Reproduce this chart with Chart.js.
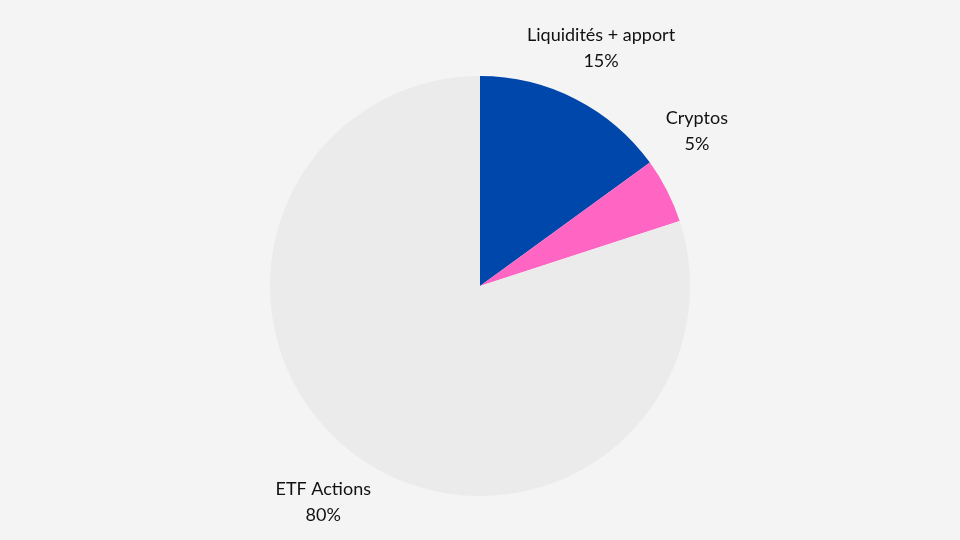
<!DOCTYPE html>
<html><head><meta charset="utf-8">
<script src="https://cdn.jsdelivr.net/npm/chart.js@4/dist/chart.umd.min.js"></script>
<style>html,body{margin:0;background:#f4f4f4;}#w{width:960px;height:540px;}</style>
</head><body><div id="w"><canvas id="c"></canvas></div>
<script>
const categories = ["Liquidités + apport", "Cryptos", "ETF Actions"];
const values = [15, 5, 80];
const colors = ["#0047AB", "#FF66C4", "#EBEBEB"];
const labelPlugin = {
  id: 'outLabels',
  afterDraw(chart) {
    const ctx = chart.ctx;
    const meta = chart.getDatasetMeta(0);
    ctx.save();
    ctx.font = '18px Lato, "Open Sans", sans-serif';
    ctx.fillStyle = '#111';
    ctx.textAlign = 'center';
    ctx.textBaseline = 'middle';
    meta.data.forEach((arc, i) => {
      const p = arc.getProps(['x','y','startAngle','endAngle','outerRadius'], true);
      let mid = (p.startAngle + p.endAngle) / 2;
      if (i === 1) mid -= 0.15;
      const r = p.outerRadius * 1.27;
      const x = p.x + Math.cos(mid) * r, y = p.y + Math.sin(mid) * r;
      ctx.fillText(categories[i], x, y - 13);
      ctx.fillText(values[i] + '%', x, y + 13);
    });
    ctx.restore();
  }
};
new Chart(document.getElementById('c'), {
  type: 'pie',
  data: { labels: categories, datasets: [{ data: values, backgroundColor: colors, borderWidth: 0 }] },
  options: {
    responsive: true, maintainAspectRatio: false, animation: false,
    layout: { padding: { top: 76, bottom: 44 } },
    plugins: { legend: { display: false }, tooltip: { enabled: false } }
  },
  plugins: [labelPlugin]
});
</script></body></html>
